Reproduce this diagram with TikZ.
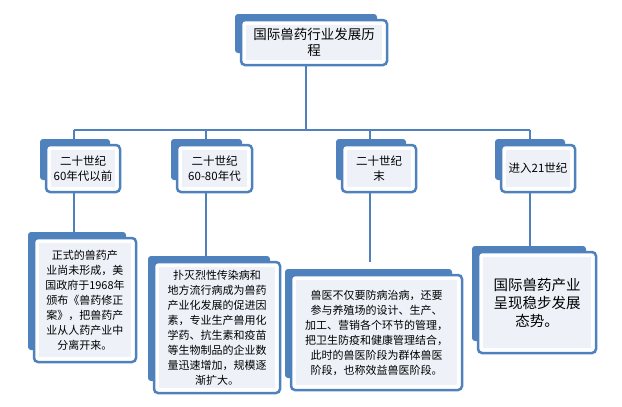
\documentclass[tikz,border=0pt]{standalone}
\usepackage{fontspec}
\setmainfont{Noto Sans CJK SC}
\definecolor{bl}{HTML}{4F81BD}
\definecolor{inner}{HTML}{EEF2F8}
\tikzset{
  backbox/.style={fill=bl,rounded corners=3pt},
  frontbox/.style={draw=bl,line width=2.5pt,fill=white,rounded corners=4pt},
  conn/.style={draw=bl,line width=2pt},
  txt/.style={align=center,inner sep=0pt}
}
\newcommand{\tbox}[5]{% x1 y1 x2 y2 name
  \fill[backbox] (#1-6,#2-6) rectangle (#3-10,#4-12);
  \draw[frontbox] (#1,#2) rectangle (#3,#4);
  \fill[inner] (#1+5,#2+5) rectangle (#3-5,#4-5);
  \coordinate (#5) at ({(#1+#3)/2},{(#2+#4)/2});
}
\begin{document}
\begin{tikzpicture}[x=1pt,y=-1pt]
\useasboundingbox (0,0) rectangle (622,407);
\draw[conn] (306,65) -- (306,130);
\draw[conn] (74,130) -- (530,130);
\foreach \x in {74,206,370,530}{\draw[conn] (\x,130) -- (\x,262);}
% title
\tbox{241}{20}{387}{65}{t}
\node[txt,font=\fontsize{13.5}{16}\selectfont] at (t) {国际兽药行业发展历\\程};
% level 2
\tbox{46}{145}{120}{192}{a}
\node[txt,font=\fontsize{11.5}{15}\selectfont] at (a) {二十世纪\\60年代以前};
\tbox{177}{145}{252}{192}{b}
\node[txt,font=\fontsize{11.5}{15}\selectfont] at (b) {二十世纪\\60-80年代};
\tbox{342}{145}{416}{192}{c}
\node[txt,font=\fontsize{11.5}{15}\selectfont] at (c) {二十世纪\\末};
\tbox{501}{145}{575}{192}{d}
\node[txt,font=\fontsize{11.5}{15}\selectfont] at (d) {进入21世纪};
% level 3
\tbox{34}{238}{136}{362}{e}
\node[txt,font=\fontsize{11}{15}\selectfont] at (e) {正式的兽药产\\业尚未形成，美\\国政府于1968年\\颁布《兽药修正\\案》，把兽药产\\业从人药产业中\\分离开来。};
\tbox{154}{262}{280}{393}{f}
\node[txt,font=\fontsize{11}{15}\selectfont] at (f) {扑灭烈性传染病和\\地方流行病成为兽药\\产业化发展的促进因\\素，专业生产兽用化\\学药、抗生素和疫苗\\等生物制品的企业数\\量迅速增加，规模逐\\渐扩大。};
\tbox{291}{275}{462}{390}{g}
\node[txt,font=\fontsize{11}{15}\selectfont] at (g) {兽医不仅要防病治病，还要\\参与养殖场的设计、生产、\\加工、营销各个环节的管理，\\把卫生防疫和健康管理结合，\\此时的兽医阶段为群体兽医\\阶段，也称效益兽医阶段。};
\tbox{478}{252}{596}{353}{h}
\node[txt,font=\fontsize{14.5}{18}\selectfont] at (h) {国际兽药产业\\呈现稳步发展\\态势。};
\end{tikzpicture}
\end{document}
